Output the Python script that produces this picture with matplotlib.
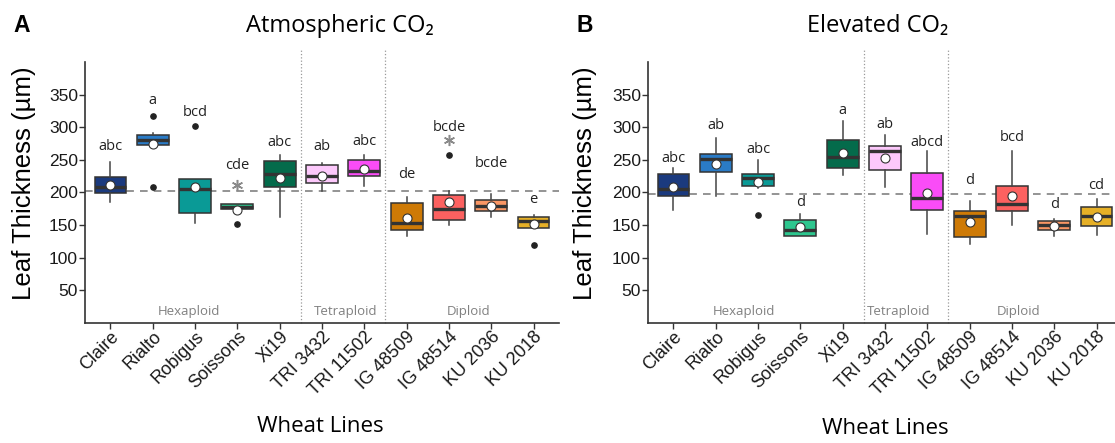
import matplotlib
matplotlib.use("Agg")
import matplotlib.pyplot as plt
from matplotlib.transforms import ScaledTranslation

# wheat lines and their groups
lines = ["Claire", "Rialto", "Robigus", "Soissons", "Xi19", "TRI 3432",
         "TRI 11502", "IG 48509", "IG 48514", "KU 2036", "KU 2018"]
groups = ["Hexaploid", "Tetraploid", "Diploid"]
colors = ["#1B3A7E", "#2A7BC6", "#0A9A96", "#2DC68E", "#046B4B", "#FCC8FB",
          "#FA4CF7", "#CE7A06", "#FC6160", "#FA9664", "#E6B027"]

# atmospheric CO2 - box statistics (um)
atm_q1 = [199, 273, 168, 174, 208, 214, 226, 143, 158, 171, 146]
atm_med = [208, 281, 206, 178, 228, 225, 233, 153, 174, 180, 157]
atm_q3 = [223, 288, 221, 182, 248, 242, 250, 184, 196, 188, 162]
atm_lo = [185, 273, 154, 174, 163, 202, 210, 134, 150, 163, 146]
atm_hi = [246, 291, 221, 182, 257, 245, 258, 193, 202, 197, 166]
atm_mean = [212, 275, 208, 173, 222, 226, 236, 161, 185, 180, 151]
atm_out = [[], [317, 209], [302], [151], [], [], [], [], [258], [], [119]]
atm_letters = ["abc", "a", "bcd", "cde", "abc", "ab", "abc", "de", "bcde", "bcde", "e"]
atm_letter_y = [270, 341, 323, 241, 277, 270, 278, 227, 300, 244, 189]
atm_star = {3: 212, 8: 281}
atm_ref = 202

# elevated CO2 - box statistics (um)
elv_q1 = [195, 232, 210, 134, 238, 235, 173, 132, 171, 143, 148]
elv_med = [206, 251, 222, 143, 254, 263, 191, 164, 182, 150, 164]
elv_q3 = [228, 259, 229, 158, 280, 271, 230, 171, 210, 156, 178]
elv_lo = [173, 194, 207, 134, 227, 209, 137, 121, 150, 134, 135]
elv_hi = [237, 284, 250, 167, 309, 288, 264, 187, 263, 160, 190]
elv_mean = [208, 244, 216, 147, 261, 253, 199, 155, 194, 149, 163]
elv_out = [[], [], [166], [], [], [], [], [], [], [], []]
elv_letters = ["abc", "ab", "abc", "d", "a", "ab", "abcd", "d", "bcd", "d", "cd"]
elv_letter_y = [252, 303, 266, 184, 325, 304, 276, 218, 285, 182, 211]
elv_star = {}
elv_ref = 198

group_x_atm = [2.85, 6.55, 9.46]
group_x_elv = [2.67, 6.32, 9.15]

TXT = ["Open Sans", "DejaVu Sans"]
ARIAL = ["Liberation Sans", "DejaVu Sans"]
EDGE = "#333333"


def draw_panel(fig, ax, q1, med, q3, lo, hi, mean, out, letters, letter_y,
               stars, ref, group_x):
    pos = list(range(1, len(lines) + 1))
    stats = []
    for i in range(len(lines)):
        stats.append(dict(q1=q1[i], med=med[i], q3=q3[i], whislo=lo[i],
                          whishi=hi[i], mean=mean[i], fliers=out[i]))
    bp = ax.bxp(stats, positions=pos, widths=0.75, patch_artist=True,
                showmeans=True, showcaps=False,
                boxprops=dict(edgecolor=EDGE, linewidth=1.1),
                whiskerprops=dict(color="#444444", linewidth=1.1),
                medianprops=dict(color="#333333", linewidth=2.4),
                meanprops=dict(marker="o", markerfacecolor="white",
                               markeredgecolor="#333333", markersize=6.5,
                               markeredgewidth=0.8),
                flierprops=dict(marker="o", markerfacecolor="#222222",
                                markeredgecolor="#222222", markersize=3.8))
    for patch, c in zip(bp["boxes"], colors):
        patch.set_facecolor(c)

    ax.axhline(ref, color="#777777", linestyle=(0, (5, 4)), linewidth=1.1, zorder=0)
    for xd in (5.5, 7.5):
        ax.plot([xd, xd], [0, 418], color="#999999", linestyle=":",
                linewidth=0.9, clip_on=False, zorder=0)

    for i, (lab, ly) in enumerate(zip(letters, letter_y)):
        ax.text(pos[i], ly, lab, ha="center", va="center", fontsize=10.5,
                family=TXT, color="#222222")
    for i, sy in stars.items():
        ax.plot(pos[i], sy, marker=(6, 2, 0), color="#8a8a8a",
                markersize=8, markeredgewidth=1.1)

    for g, gx in zip(groups, group_x):
        ax.text(gx, 17.5, g, ha="center", va="center", fontsize=9.5,
                family=TXT, color="#808080")

    ax.set_xlim(0.4, len(lines) + 0.6)
    ax.set_ylim(0, 400)
    ax.set_yticks([50, 100, 150, 200, 250, 300, 350])
    ax.set_xticks(pos)
    ax.set_xticklabels(lines, rotation=45, ha="right", va="top",
                       rotation_mode="anchor", family=ARIAL, fontsize=13)
    # shift the slanted labels so their upper end sits right of the tick
    shift = ScaledTranslation(9 / 100, -7 / 100, fig.dpi_scale_trans)
    for t in ax.get_xticklabels():
        t.set_transform(t.get_transform() + shift)
    for t in ax.get_yticklabels():
        t.set_family(ARIAL)
    ax.tick_params(axis="y", labelsize=12.5, length=4, width=1,
                   color=EDGE, labelcolor="#1a1a1a", pad=1)
    ax.tick_params(axis="x", length=4, width=1, color=EDGE,
                   labelcolor="#1a1a1a", pad=0)
    for s in ("top", "right"):
        ax.spines[s].set_visible(False)
    for s in ("left", "bottom"):
        ax.spines[s].set_color(EDGE)
        ax.spines[s].set_linewidth(1.2)
    ax.set_facecolor("white")


fig = plt.figure(figsize=(11.15, 4.43), dpi=100)
W, H = 1115, 443

ax1 = fig.add_axes([85 / W, (H - 323) / H, 474 / W, 261 / H])
ax2 = fig.add_axes([648 / W, (H - 323) / H, 474 / W, 261 / H])

draw_panel(fig, ax1, atm_q1, atm_med, atm_q3, atm_lo, atm_hi, atm_mean,
           atm_out, atm_letters, atm_letter_y, atm_star, atm_ref, group_x_atm)
draw_panel(fig, ax2, elv_q1, elv_med, elv_q3, elv_lo, elv_hi, elv_mean,
           elv_out, elv_letters, elv_letter_y, elv_star, elv_ref, group_x_elv)

# panel letters, titles and axis labels
fig.text(13 / W, 1 - 25 / H, "A", fontsize=16.5, fontweight="bold",
         family=ARIAL, va="center", ha="left")
fig.text(576 / W, 1 - 25 / H, "B", fontsize=16.5, fontweight="bold",
         family=ARIAL, va="center", ha="left")
fig.text(340 / W, 1 - 26 / H, "Atmospheric CO\u2082", fontsize=17,
         family=TXT, ha="center", va="center")
fig.text(878 / W, 1 - 26 / H, "Elevated CO\u2082", fontsize=17,
         family=TXT, ha="center", va="center")
fig.text(24 / W, 1 - 183 / H, "Leaf Thickness (\u00b5m)", rotation=90,
         fontsize=18.5, family=ARIAL, ha="center", va="center")
fig.text(585 / W, 1 - 183 / H, "Leaf Thickness (\u00b5m)", rotation=90,
         fontsize=18.5, family=ARIAL, ha="center", va="center")
fig.text(320 / W, 1 - 426 / H, "Wheat Lines", fontsize=16,
         family=TXT, ha="center", va="center")
fig.text(885 / W, 1 - 429 / H, "Wheat Lines", fontsize=16,
         family=TXT, ha="center", va="center")

fig.savefig("out.png", dpi=100, facecolor="white")
